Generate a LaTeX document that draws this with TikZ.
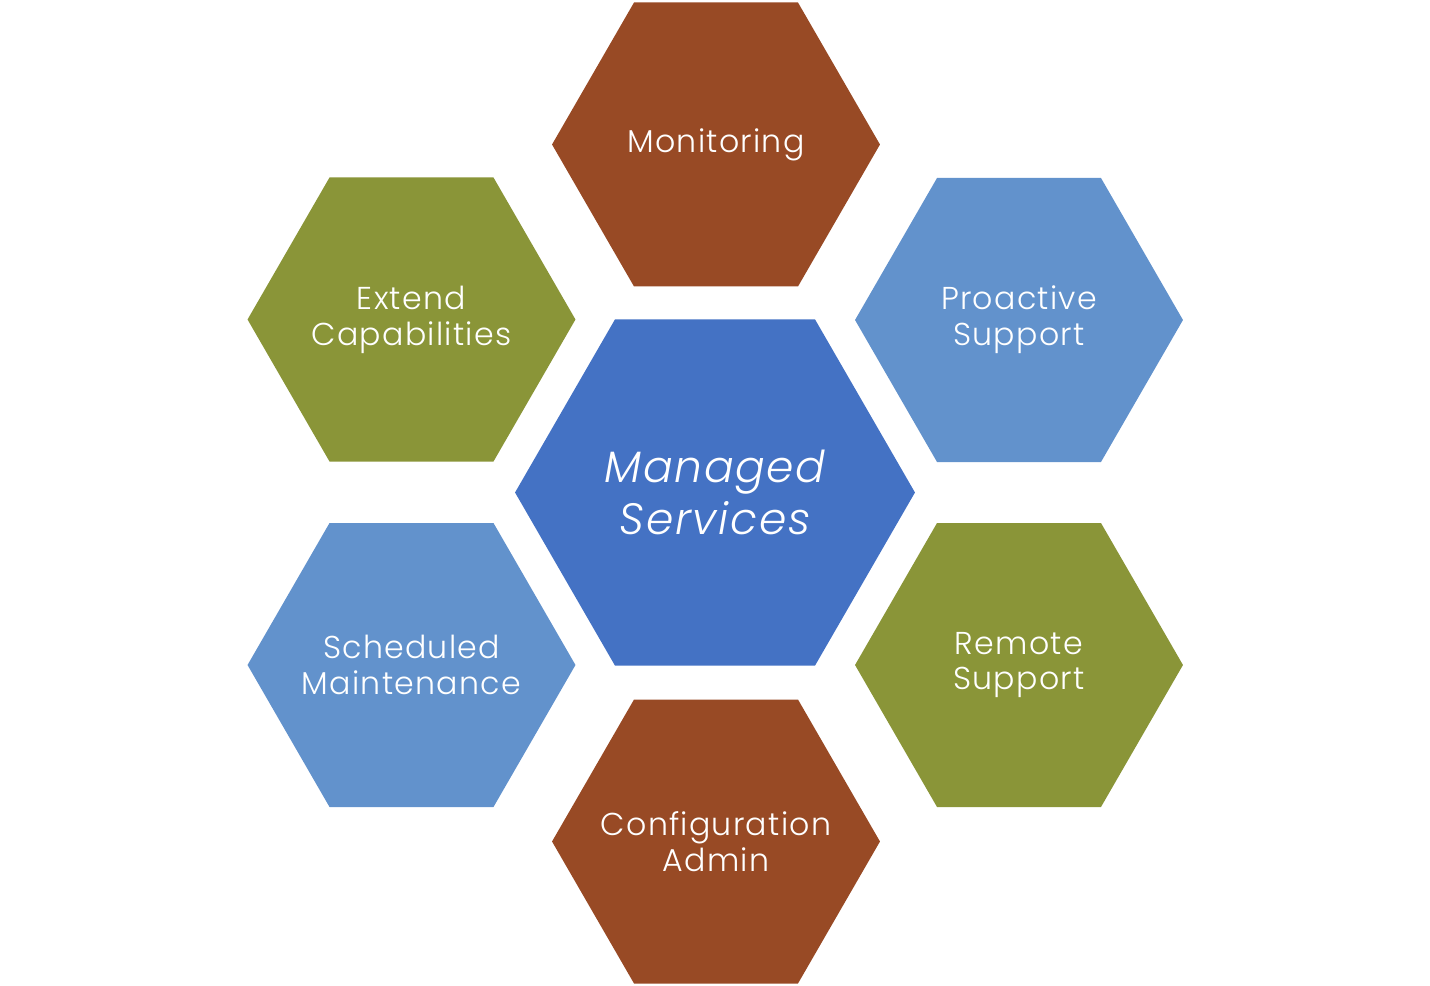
\documentclass[tikz,border=0pt]{standalone}
\usepackage{fontspec}
\setmainfont{Poppins}[UprightFont=* Light, ItalicFont=* Light Italic, LetterSpace=4]
\usetikzlibrary{shapes.geometric}
\definecolor{hexbrown}{HTML}{984A25}
\definecolor{hexgreen}{HTML}{8A9538}
\definecolor{hexlight}{HTML}{6292CC}
\definecolor{hexblue}{HTML}{4472C4}
\tikzset{
  hexa/.style={regular polygon, regular polygon sides=6, minimum size=6.56cm, inner sep=0pt, outer sep=0pt},
  hexcenter/.style={hexa, minimum size=8cm},
  hextext/.style={text=white, align=center, inner sep=0pt, font=\fontsize{18}{20.4}\selectfont},
  centertext/.style={hextext, font=\fontsize{25}{29.5}\selectfont\itshape}
}
\begin{document}
\begin{tikzpicture}[x=0.02cm, y=-0.02cm]
\useasboundingbox (0,0) rectangle (1430,986);
\node[hexcenter, fill=hexblue, label={[centertext]center:Managed\\ Services}] (managed) at (715,492.5) {};
\node[hexa, fill=hexbrown, label={[hextext]center:Monitoring}] (monitoring) at (716,144.5) {};
\node[hexa, fill=hexgreen, label={[hextext]center:Extend\\ Capabilities}] (extend) at (411.5,319.5) {};
\node[hexa, fill=hexlight, label={[hextext]center:Proactive\\ Support}] (proactive) at (1019,320) {};
\node[hexa, fill=hexlight, label={[hextext]center:Scheduled\\ Maintenance}] (scheduled) at (411.5,665) {};
\node[hexa, fill=hexgreen, label={[hextext]center:Remote\\ Support}] (remote) at (1019,665) {};
\node[hexa, fill=hexbrown, label={[hextext]center:Configuration\\ Admin}] (config) at (716,841.5) {};
\end{tikzpicture}
\end{document}
